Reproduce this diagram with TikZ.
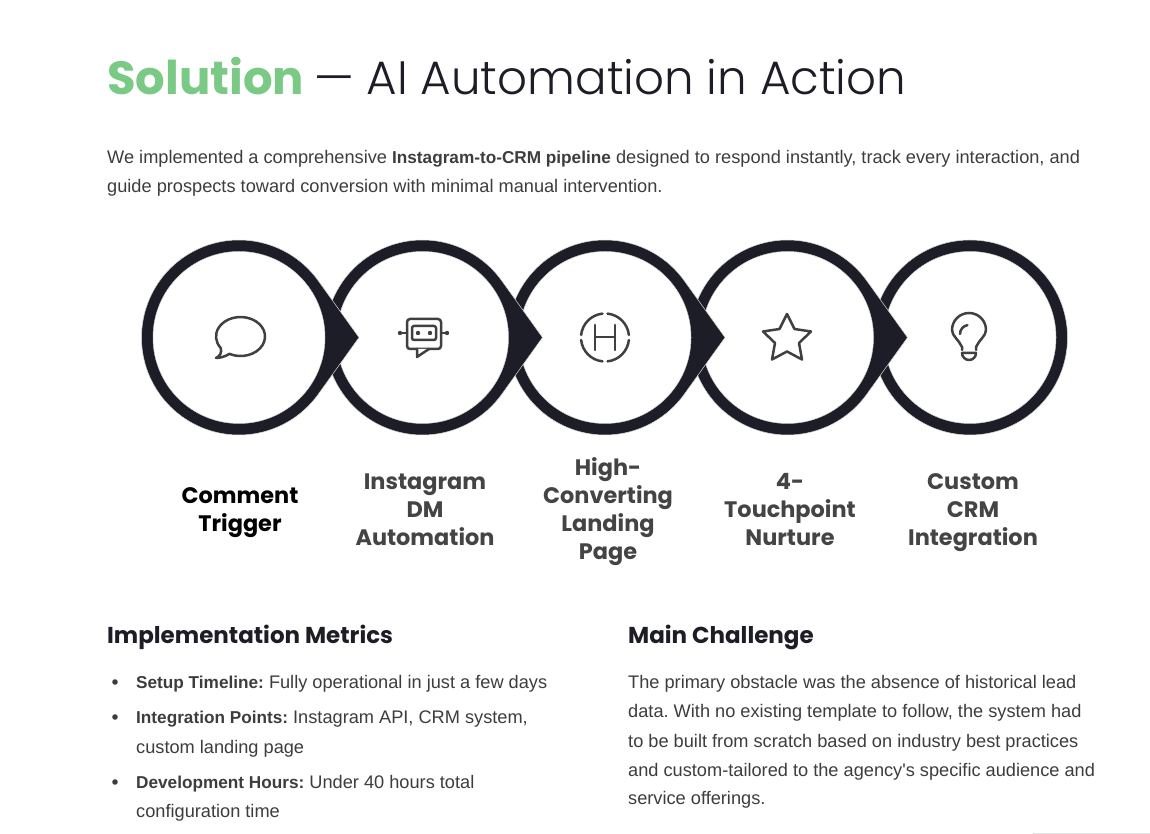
\documentclass[tikz,border=0pt]{standalone}
\usepackage{fontspec}
\setmainfont{Liberation Sans}[BoldFeatures={Scale=0.945}]
\newfontfamily\headfont{Poppins}
\newfontfamily\lightfont{Poppins Light}
\newfontfamily\plainfont{Liberation Sans}
\definecolor{RingDark}{RGB}{28, 29, 38}
\definecolor{BodyGrey}{RGB}{61, 61, 61}
\definecolor{LabelGrey}{RGB}{68, 68, 68}
\definecolor{IconGrey}{RGB}{64, 64, 64}
\definecolor{AccentGreen}{RGB}{122, 201, 133}
\tikzset{
  ringfill/.style={fill=RingDark, draw=white!85!black, line width=0.5pt, line join=miter},
  ringdisc/.style={circle, fill=white, draw=white!80!black, line width=0.5pt, minimum size=172pt, inner sep=0pt},
  icon/.style={draw=IconGrey, line width=2.5pt, line cap=round, line join=round},
  steplabel/.style={align=center, text=LabelGrey, font=\headfont\bfseries\fontsize{22.4}{28}\selectfont},
  subhead/.style={anchor=base west, text=RingDark, font=\headfont\bfseries\fontsize{23}{28}\selectfont},
  bodytext/.style={anchor=base west, text=BodyGrey, font=\frenchspacing\fontsize{18.2}{29}\selectfont},
}
\begin{document}
\begin{tikzpicture}[x=1pt, y=1pt]
    \useasboundingbox[fill=white] (0,0) rectangle (1150,834);

    % Title
    \node[anchor=base west, inner sep=0pt, text=AccentGreen, font=\headfont\bfseries\fontsize{46.5}{50}\selectfont] (titlehead) at (107,739) {Solution};
    \node[anchor=base west, inner sep=0pt, text=RingDark, font=\lightfont\fontsize{46.8}{50}\selectfont] (titlerest) at (314,739) {— AI Automation in Action};

    % Intro
    \node[bodytext, inner sep=0pt] (intro1) at (107,670.5) {We implemented a comprehensive \textbf{Instagram-to-CRM pipeline} designed to respond instantly, track every interaction, and};
    \node[bodytext, inner sep=0pt] (intro2) at (107,641.5) {guide prospects toward conversion with minimal manual intervention.};

    % Rings, last one first
    \fill[ringfill] (970,496.5) circle (97.5);
    \node[ringdisc] (disc5) at (970,496.5) {};
    \foreach \i/\cx in {4/787.5, 3/605, 2/422.5, 1/239} {
      \draw[ringfill] (\cx,496.5) ++(35.66:97.5) arc[start angle=35.66, end angle=324.34, radius=97.5] -- (\cx+120,496.5) -- cycle;
      \node[ringdisc] (disc\i) at (\cx,496.5) {};
    }

    % Comment icon
    \draw[icon] (229.4,480.1) arc[start angle=-117, end angle=216, x radius=24.5, y radius=19.5]
      .. controls (222,481) and (220,478) .. (216,476)
      .. controls (221,476) and (226,478) .. (229.4,480.1) -- cycle;

    % Robot icon
    \draw[icon, rounded corners=3pt] (407,485) rectangle (441,515);
    \draw[icon, rounded corners=2pt] (412,494) rectangle (436,508);
    \fill[IconGrey] (418,501) circle (2.2) (430,501) circle (2.2) (400,501) circle (2.2) (447,501) circle (2.2);
    \draw[icon] (400,501) -- (407,501) (441,501) -- (447,501);
    \draw[icon, fill=white] (417,485) -- (417,477) -- (429,485);

    % Landing page icon
    \foreach \a in {0,90,180,270} {
      \draw[icon] (605,496.5) ++(\a+6:24) arc[start angle=\a+6, end angle=\a+84, radius=24];
    }
    \draw[icon] (595,484) -- (595,509) (615,484) -- (615,509) (595,497) -- (615,497);

    % Star icon
    \draw[icon] (787,520) -- (794.5,505) -- (811,502.5) -- (799,491) -- (802,474.5) -- (787,482.5) -- (772,474.5) -- (775,491) -- (763,502.5) -- (779.5,505) -- cycle;

    % Bulb icon
    \draw[icon] (962,484) -- (962,487) .. controls (959,494) and (952,498) .. (952,504) arc[start angle=180, end angle=0, radius=17] .. controls (986,498) and (979,494) .. (976,487) -- (976,484);
    \draw[icon] (960,500) arc[start angle=180, end angle=100, radius=9];
    \draw[icon] (962,481) -- (976,481) arc[start angle=0, end angle=-180, radius=7] -- cycle;

    % Step labels
    \node[steplabel, text=black] (step1) at (240,321) {Comment\\Trigger};
    \node[steplabel] (step2) at (425,324) {Instagram\\DM\\Automation};
    \node[steplabel] (step3) at (608,322) {High-\\Converting\\Landing\\Page};
    \node[steplabel] (step4) at (790,324) {4-\\Touchpoint\\Nurture};
    \node[steplabel] (step5) at (973,321) {Custom\\CRM\\Integration};

    % Lower columns
    \node[subhead, inner sep=0pt] (metrics) at (107,190) {Implementation Metrics};
    \node[subhead, inner sep=0pt] (challenge) at (628,190) {Main Challenge};

    \foreach \yy in {152,117,52} {
      \fill[BodyGrey] (115,\yy) circle (2.8);
    }
    \node[bodytext, inner sep=0pt] (setup) at (136,145.5) {\textbf{Setup Timeline:} Fully operational in just a few days};
    \node[bodytext, inner sep=0pt] (points) at (136,110.5) {\textbf{Integration Points:} Instagram API, CRM system,};
    \node[bodytext, inner sep=0pt] (points2) at (136,80.5) {custom landing page};
    \node[bodytext, inner sep=0pt] (hours) at (136,45.5) {\textbf{Development Hours:} Under 40 hours total};
    \node[bodytext, inner sep=0pt] (hours2) at (136,16.5) {configuration time};

    \node[bodytext, inner sep=0pt] (main1) at (628,145.5) {The primary obstacle was the absence of historical lead};
    \node[bodytext, inner sep=0pt] (main2) at (628,116.5) {data. With no existing template to follow, the system had};
    \node[bodytext, inner sep=0pt] (main3) at (628,86.5) {to be built from scratch based on industry best practices};
    \node[bodytext, inner sep=0pt] (main4) at (628,57.5) {and custom-tailored to the agency{\plainfont\fontsize{18.2}{29}\selectfont'}s specific audience and};
    \node[bodytext, inner sep=0pt] (main5) at (628,29.5) {service offerings.};

    \draw[white!90!black, line width=0.5pt] (1033,0.5) -- (1150,0.5);
\end{tikzpicture}
\end{document}
